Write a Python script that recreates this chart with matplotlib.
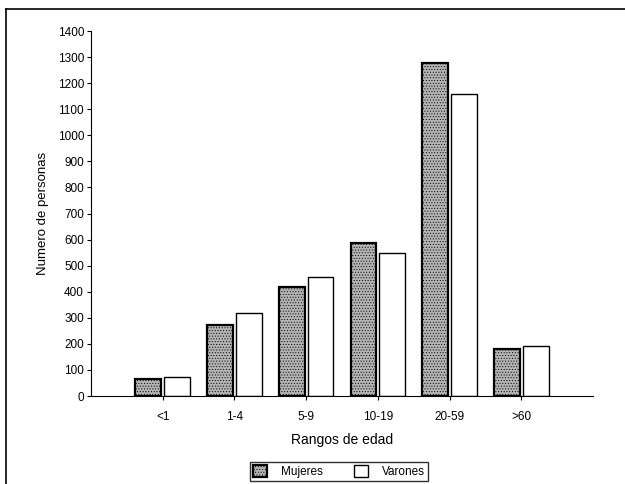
import numpy as np
import matplotlib
matplotlib.use("Agg")
import matplotlib.pyplot as plt
from matplotlib.lines import Line2D

# age ranges and counts
categories = ["<1", "1-4", "5-9", "10-19", "20-59", ">60"]
mujeres = [65, 272, 420, 586, 1276, 180]
varones = [73, 318, 455, 547, 1157, 193]

plt.rcParams["font.family"] = ["Liberation Sans", "DejaVu Sans"]
plt.rcParams["hatch.linewidth"] = 0.4

fig = plt.figure(figsize=(6.25, 4.84), dpi=100)
ax = fig.add_axes([0.1456, 0.1818, 0.8032, 0.7541])

x = np.arange(1, len(categories) + 1)
w = 0.36
ax.bar(x - 0.2, mujeres, width=w, color="#b4b4b4", edgecolor="black",
       linewidth=1.6, hatch="......", label="Mujeres")
ax.bar(x + 0.2, varones, width=w, color="white", edgecolor="black",
       linewidth=1.0, label="Varones")

ax.set_xlim(0, 7)
ax.set_ylim(0, 1400)
ax.set_yticks(range(0, 1401, 100))
ax.set_xticks(x)
ax.set_xticklabels(categories)
ax.tick_params(axis="both", labelsize=8.5, length=3, width=0.8, direction="out")
ax.tick_params(axis="x", pad=8)
ax.tick_params(axis="y", pad=2)
for s in ["top", "right"]:
    ax.spines[s].set_visible(False)

ax.set_ylabel("Numero de personas", fontsize=9.5, labelpad=6)
ax.set_xlabel("Rangos de edad", fontsize=10, labelpad=7)

ax.legend(loc="center", bbox_to_anchor=(0.5424, 0.025), bbox_transform=fig.transFigure,
          ncol=2, fontsize=8.5, frameon=True, fancybox=False, edgecolor="black",
          handlelength=1.2, handleheight=1.2, columnspacing=2.6, handletextpad=1.2,
          borderpad=0.25)

# outer frame of the scanned page (only left and top edges visible)
fig.add_artist(Line2D([0.009, 0.009], [0, 0.982], color="black", lw=1.2))
fig.add_artist(Line2D([0.009, 1.0], [0.982, 0.982], color="black", lw=1.2))

fig.savefig("out.png", dpi=100)
